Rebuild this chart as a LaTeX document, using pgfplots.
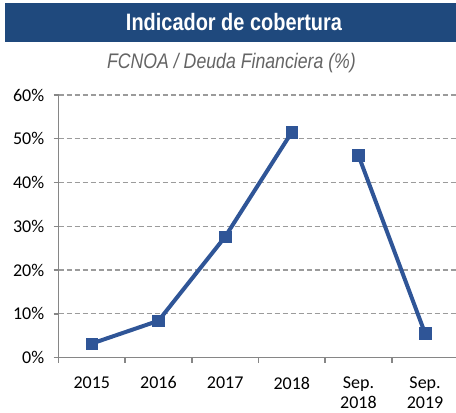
\documentclass[border=0pt]{standalone}
\usepackage{fontspec}
\setmainfont{Carlito}
\newfontfamily\titlefont[FakeStretch=0.84]{Liberation Sans}
\usepackage{pgfplots}
\pgfplotsset{compat=1.18}
\definecolor{clrBanner}{RGB}{31,73,125}
\definecolor{clrLine}{RGB}{47,85,151}
\definecolor{clrGrid}{RGB}{155,155,155}
\definecolor{clrAxis}{RGB}{134,134,134}
\definecolor{clrSub}{RGB}{100,100,100}

\begin{document}
\begin{tikzpicture}
\path[use as bounding box] (0,0) rectangle (342pt,309.75pt);
% banner and subtitle
\fill[clrBanner] (3.75pt,278.5pt) rectangle (342pt,307.7pt);
\node[text=white,font=\titlefont\bfseries\fontsize{17.8}{20}\selectfont]
  at (175.5pt,293.25pt) {Indicador de cobertura};
\node[text=clrSub,font=\titlefont\itshape\fontsize{15.8}{18}\selectfont]
  at (173.6pt,262.5pt) {FCNOA / Deuda Financiera (\%)};

\begin{axis}[
  at={(43.875pt,41.6pt)}, anchor=south west,
  scale only axis, width=298.1pt, height=196.9pt,
  xmin=-0.5, xmax=5.463, ymin=0, ymax=60,
  axis lines=left,
  axis line style={clrAxis,line width=1.1pt,-},
  xtick={0,1,2,3,4,5},
  xticklabels={2015,2016,2017,2018,{Sep.\\2018},{Sep.\\2019}},
  xticklabel style={align=center,font=\fontsize{13.5}{15}\selectfont,yshift=-7.2pt},
  major x tick style={draw=none},
  minor xtick={-0.5,0.5,1.5,2.5,3.5,4.5},
  ytick={0,10,20,30,40,50,60},
  yticklabels={0\%,10\%,20\%,30\%,40\%,50\%,60\%},
  yticklabel style={font=\fontsize{13.5}{15}\selectfont,xshift=-3.5pt},
  tick align=outside,
  major tick length=3.75pt, minor tick length=3.75pt,
  tick style={clrAxis,line width=1.1pt},
  ymajorgrids,
  grid style={clrGrid,line width=0.9pt,dash pattern=on 3.75pt off 2.25pt},
  clip=false,
]
\addplot[clrLine,line width=3pt,mark=square*,mark size=4.3pt,
  mark options={solid,line width=0.4pt}]
  coordinates {(0,3.2)(1,8.4)(2,27.6)(3,51.5)};
\addplot[clrLine,line width=3pt,mark=square*,mark size=4.3pt,
  mark options={solid,line width=0.4pt}]
  coordinates {(4,46.2)(5,5.5)};
\end{axis}
\end{tikzpicture}
\end{document}
